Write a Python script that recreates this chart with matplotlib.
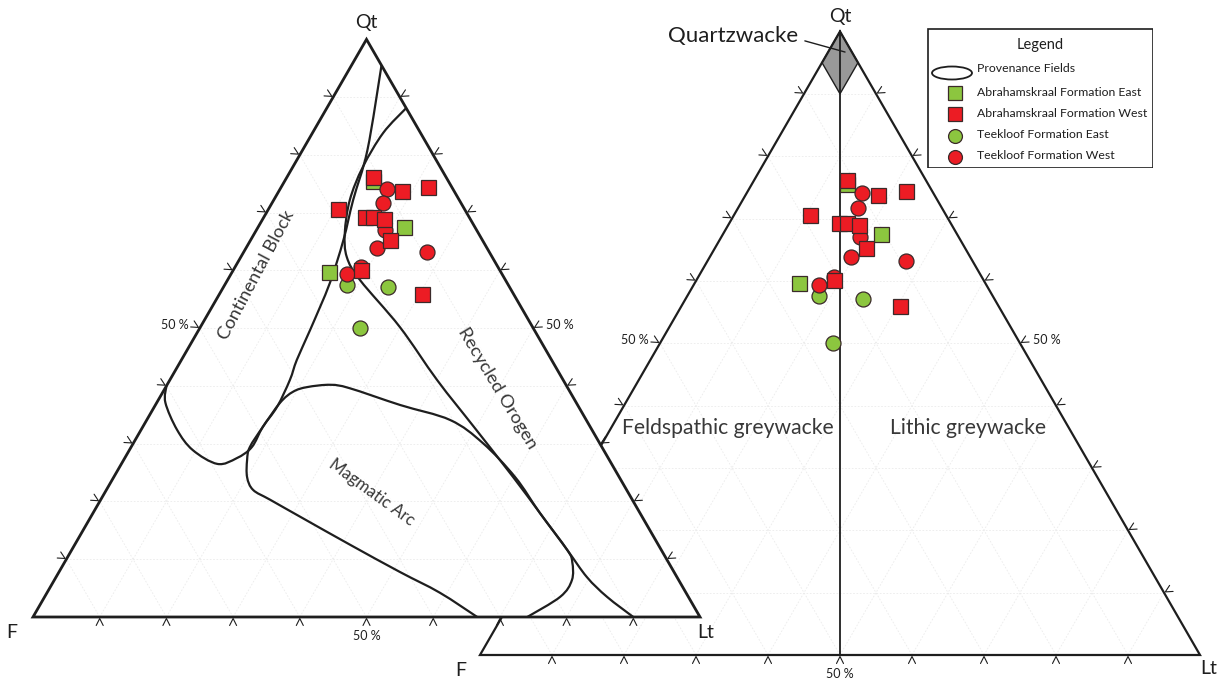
import numpy as np
import matplotlib
matplotlib.use("Agg")
import matplotlib.pyplot as plt
from matplotlib.path import Path
from matplotlib.patches import PathPatch, Polygon, Ellipse, Rectangle

plt.rcParams['font.family'] = ['Lato', 'DejaVu Sans']

H = np.sqrt(3) / 2

# ---- sample compositions (%): Qt / F / Lt ----
abr_east_qt = [75.5, 67.5, 59.7]
abr_east_f = [11.3, 10.6, 25.8]
abr_east_lt = [13.2, 21.9, 14.5]

abr_west_qt = [76.2, 73.8, 74.4, 70.6, 69.3, 69.3, 68.9, 65.3, 60.1, 55.9]
abr_west_f = [10.9, 7.8, 3.6, 18.9, 15.5, 14.4, 12.9, 13.8, 20.8, 13.7]
abr_west_lt = [12.9, 18.4, 22.0, 10.5, 15.2, 16.3, 18.2, 20.9, 19.1, 30.4]

tee_east_qt = [57.5, 57.1, 50.0]
tee_east_f = [24.2, 18.2, 26.0]
tee_east_lt = [18.3, 24.7, 24.0]

tee_west_qt = [74.1, 71.7, 67.0, 63.9, 63.2, 59.4, 60.6]
tee_west_f = [9.9, 11.7, 13.7, 16.5, 9.3, 23.2, 20.5]
tee_west_lt = [16.0, 16.6, 19.3, 19.6, 27.5, 17.4, 18.9]

series_names = ["Abrahamskraal Formation East", "Abrahamskraal Formation West",
                "Teekloof Formation East", "Teekloof Formation West"]

# ---- provenance field boundaries (Qt %, Lt %; F is the remainder) ----
cont_qt = [95.5, 80.9, 72.2, 65.3, 57.8, 49.7, 44.5, 41.0, 36.4, 32.9, 29.4,
           27.5, 26.5, 28.9, 32.4, 37.1, 40.0]
cont_lt = [4.5, 9.7, 11.9, 13.9, 15.6, 16.7, 17.3, 18.0, 18.4, 18.0, 18.1,
           16.8, 14.4, 9.5, 5.4, 1.3, 0.0]

recy_qt = [88.1, 83.8, 77.9, 72.2, 66.5, 62.3, 58.3, 50.2, 41.0, 32.7, 24.2,
           18.0, 11.6, 6.9, 3.5, 0.0]
recy_lt = [11.9, 10.6, 10.5, 11.4, 13.5, 15.9, 19.9, 29.9, 40.1, 49.9, 59.9,
           67.0, 74.3, 79.6, 84.3, 90.0]

arc_qt = [0.0, 4.2, 7.8, 12.5, 17.1, 20.3, 22.0, 24.2, 27.2, 29.4, 32.9, 37.1,
          39.0, 39.8, 40.2, 39.6, 36.7, 34.1, 30.1, 24.2, 18.0, 11.6, 9.5,
          6.4, 3.5, 0.0]
arc_lt = [66.6, 58.9, 51.1, 41.3, 31.9, 25.4, 22.0, 20.0, 18.5, 17.8, 18.0,
          18.5, 19.5, 21.2, 24.5, 27.7, 36.7, 45.5, 52.4, 60.2, 67.0, 74.3,
          76.1, 77.6, 77.3, 74.1]

# Quartzwacke field of the greywacke classification
qwk_qt = [100.0, 95.0, 90.0, 95.0]
qwk_lt = [0.0, 0.0, 5.0, 5.0]

RED = '#ec1c24'
GREEN = '#8cc63f'
EDGE = '#3b2a2a'
INK = '#1e1e1e'
LABEL = '#383838'
GRID = '#ebebeb'


def to_xy(qt, lt, f=None):
    qt = np.asarray(qt, float)
    lt = np.asarray(lt, float)
    f = 100.0 - qt - lt if f is None else np.asarray(f, float)
    s = qt + f + lt
    return (lt + qt / 2.0) / s, qt / s * H


def smooth_path(x, y):
    pts = np.column_stack([x, y])
    n = len(pts)
    verts = [pts[0]]
    codes = [Path.MOVETO]
    for i in range(n - 1):
        p0 = pts[i - 1] if i > 0 else pts[i]
        p1, p2 = pts[i], pts[i + 1]
        p3 = pts[i + 2] if i + 2 < n else pts[i + 1]
        verts += [p1 + (p2 - p0) / 6.0, p2 - (p3 - p1) / 6.0, p2]
        codes += [Path.CURVE4] * 3
    return Path(verts, codes)


def chevrons(ax, p0, p1, normal, unit, lw):
    p0, p1, normal = np.array(p0), np.array(p1), np.array(normal)
    d = (p1 - p0) / np.linalg.norm(p1 - p0)
    gap, length, half = 1.5 / unit, 7.0 / unit, 3.5 / unit
    for k in range(1, 10):
        p = p0 + (p1 - p0) * k / 10.0
        apex = p + normal * gap
        a1 = p + normal * (gap + length) + d * half
        a2 = p + normal * (gap + length) - d * half
        ax.plot([a1[0], apex[0], a2[0]], [a1[1], apex[1], a2[1]],
                color=INK, lw=lw, solid_capstyle='round', zorder=4)


def grid(ax, zorder):
    for k in range(1, 10):
        v = 10.0 * k
        # lines of constant Qt, constant Lt and constant F
        for qs, ls_ in [([v, v], [0, 100 - v]),
                        ([0, 100 - v], [v, v]),
                        ([0, 100 - v], [100 - v, 0])]:
            xs, ys = to_xy(qs, ls_)
            ax.plot(xs, ys, color=GRID, lw=0.6, ls=(0, (2, 2)), zorder=zorder)


def plot_samples(ax, ms):
    order = [(abr_east_qt, abr_east_f, abr_east_lt, 's', GREEN),
             (tee_east_qt, tee_east_f, tee_east_lt, 'o', GREEN),
             (tee_west_qt, tee_west_f, tee_west_lt, 'o', RED),
             (abr_west_qt, abr_west_f, abr_west_lt, 's', RED)]
    for i, (q, f, l, m, c) in enumerate(order):
        x, y = to_xy(q, l, f)
        ax.plot(x, y, ls='none', marker=m, ms=ms, mfc=c, mec=EDGE, mew=0.9,
                zorder=10 + i)


def corner_labels(ax, dy_top, f_off, lt_off):
    ax.annotate('Qt', xy=VERT[2], xytext=(0, dy_top), textcoords='offset points',
                ha='center', va='center', fontsize=14, color=INK)
    ax.annotate('F', xy=VERT[0], xytext=f_off, textcoords='offset points',
                ha='center', va='center', fontsize=14, color=INK)
    ax.annotate('Lt', xy=VERT[1], xytext=lt_off, textcoords='offset points',
                ha='center', va='center', fontsize=14, color=INK)
    ax.annotate('50 %', xy=(VERT[0] + VERT[2]) / 2, xytext=(-8, 2),
                textcoords='offset points', ha='right', va='center',
                fontsize=9, color=INK)
    ax.annotate('50 %', xy=(VERT[1] + VERT[2]) / 2, xytext=(9, 2),
                textcoords='offset points', ha='left', va='center',
                fontsize=9, color=INK)
    ax.annotate('50 %', xy=(VERT[0] + VERT[1]) / 2, xytext=(0, -14),
                textcoords='offset points', ha='center', va='center',
                fontsize=9, color=INK)


fig = plt.figure(figsize=(12.2, 6.82), dpi=100)
fig.patch.set_facecolor('white')

VERT = np.array([[0, 0], [1, 0], [0.5, H]])
N_LEFT = np.array([-H, 0.5])
N_RIGHT = np.array([H, 0.5])
N_BASE = np.array([0, -1.0])

# ================= right diagram: greywacke classification =================
U_R = 720.0
axr = fig.add_axes([0, 0, 1, 1])
axr.set_xlim(-480 / U_R, 740 / U_R)
axr.set_ylim(-27 / U_R, 655 / U_R)
axr.axis('off')

axr.add_patch(Polygon(VERT, closed=True, fc='white', ec='none', zorder=0))
grid(axr, 1)
qx, qy = to_xy(qwk_qt, qwk_lt)
axr.add_patch(Polygon(np.column_stack([qx, qy]), closed=True, fc='#999999',
                      ec=INK, lw=1.0, zorder=3))
cx, cy = to_xy([100, 0], [0, 50])
axr.plot(cx, cy, color=INK, lw=1.3, zorder=3)
axr.add_patch(Polygon(VERT, closed=True, fc='none', ec=INK, lw=1.6, zorder=5))
chevrons(axr, VERT[0], VERT[1], N_BASE, U_R, 0.8)
chevrons(axr, VERT[0], VERT[2], N_LEFT, U_R, 0.8)
chevrons(axr, VERT[1], VERT[2], N_RIGHT, U_R, 0.8)
plot_samples(axr, 10.8)
corner_labels(axr, 11, (-14, -11), (6, -10))

fx, fy = to_xy(36.4, 16.2)
axr.text(fx, fy, 'Feldspathic greywacke', ha='center', va='center',
         fontsize=15.2, color=LABEL, zorder=6)
lx, ly = to_xy(36.4, 49.6)
axr.text(lx, ly, 'Lithic greywacke', ha='center', va='center',
         fontsize=15.2, color=LABEL, zorder=6)
ax_, ay_ = to_xy(96.7, 2.35)
axr.annotate('Quartzwacke', xy=(ax_, ay_), xytext=(253 / U_R, 619 / U_R),
             textcoords='data', ha='center', va='center', fontsize=16,
             color=INK, zorder=7,
             arrowprops=dict(arrowstyle='-', color=INK, lw=1.0, shrinkA=3,
                             shrinkB=0, relpos=(1.0, 0.35)))

# ================= left diagram: provenance fields =================
U_L = 667.0
axl = fig.add_axes([0, 0, 1, 1])
axl.set_xlim(-33 / U_L, 1187 / U_L)
axl.set_ylim(-65 / U_L, 617 / U_L)
axl.axis('off')
axl.patch.set_alpha(0)

axl.add_patch(Polygon(VERT, closed=True, fc='white', ec='none', zorder=0))
grid(axl, 1)
for q, l in [(cont_qt, cont_lt), (recy_qt, recy_lt), (arc_qt, arc_lt)]:
    x, y = to_xy(q, l)
    axl.add_patch(PathPatch(smooth_path(x, y), fc='none', ec=INK, lw=1.6,
                            zorder=3))
axl.add_patch(Polygon(VERT, closed=True, fc='none', ec=INK, lw=2.0, zorder=5))
chevrons(axl, VERT[0], VERT[1], N_BASE, U_L, 0.8)
chevrons(axl, VERT[0], VERT[2], N_LEFT, U_L, 0.8)
chevrons(axl, VERT[1], VERT[2], N_RIGHT, U_L, 0.8)
plot_samples(axl, 10.8)
corner_labels(axl, 12, (-15, -11), (4, -11))

for txt, q, l, rot, fs in [('Continental Block', 59.2, 3.9, 62, 13.2),
                           ('Recycled Orogen', 39.6, 49.8, -59, 13.2),
                           ('Magmatic Arc', 21.5, 40.1, -36, 12)]:
    x, y = to_xy(q, l)
    axl.text(x, y, txt, ha='center', va='center', rotation=rot,
             rotation_mode='anchor', fontsize=fs, color=LABEL, zorder=6)

# ================= legend =================
axg = fig.add_axes([927 / 1220, 1 - 168 / 682, 226 / 1220, 140 / 682])
axg.set_xlim(0, 226)
axg.set_ylim(140, 0)
axg.axis('off')
axg.add_patch(Rectangle((0.5, 0.5), 225, 139, fc='white', ec=INK, lw=1.2))
axg.text(113, 17, 'Legend', ha='center', va='center', fontsize=10.5, color=INK)
axg.add_patch(Ellipse((25, 45), 40, 13, fc='none', ec=INK, lw=1.3))
axg.text(50, 41, 'Provenance Fields', ha='left', va='center', fontsize=8.8,
         color=INK)
legend_rows = [('s', GREEN), ('s', RED), ('o', GREEN), ('o', RED)]
for i, ((m, c), name) in enumerate(zip(legend_rows, series_names)):
    yy = 65 + i * 21.3
    axg.plot([28], [yy], marker=m, ms=10 if m == 'o' else 9.5, mfc=c,
             mec=EDGE, mew=0.9, ls='none')
    axg.text(50, yy - 1, name, ha='left', va='center', fontsize=8.8, color=INK)

fig.savefig('out.png', dpi=100, facecolor='white')
